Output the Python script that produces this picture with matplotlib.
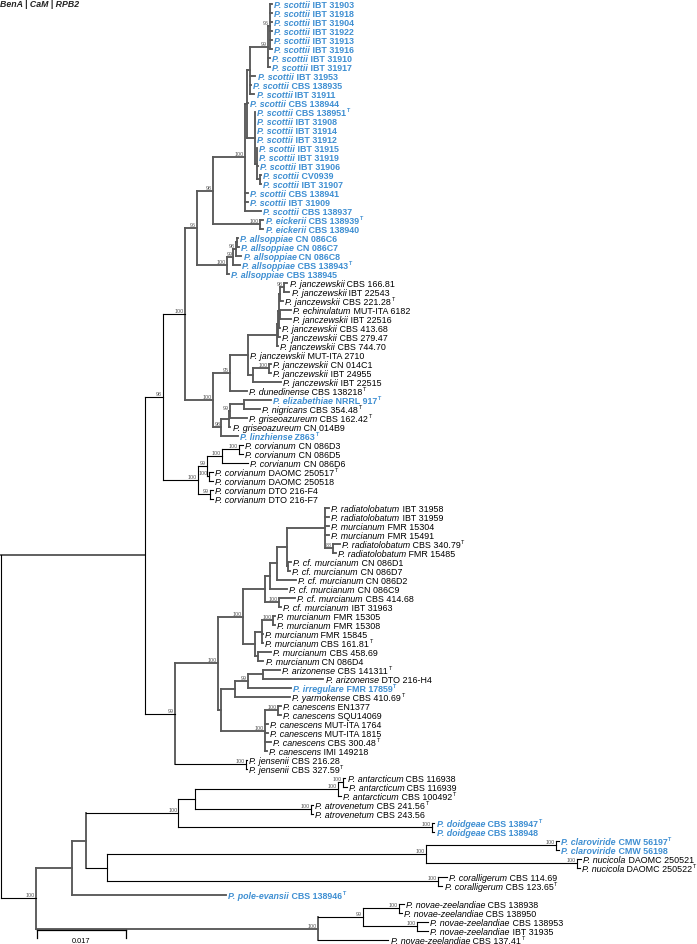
import matplotlib
matplotlib.use("Agg")
import matplotlib.pyplot as plt
from matplotlib.collections import LineCollection

plt.rcParams['font.family'] = ['Liberation Sans', 'DejaVu Sans']

# leaf labels, top to bottom
species = (["P. scottii"] * 24 + ["P. eickerii"] * 2 + ["P. allsoppiae"] * 5
           + ["P. janczewskii"] * 3 + ["P. echinulatum"] + ["P. janczewskii"] * 8
           + ["P. dunedinense", "P. elizabethiae", "P. nigricans",
              "P. griseoazureum", "P. griseoazureum", "P. linzhiense"]
           + ["P. corvianum"] * 7
           + ["P. radiatolobatum"] * 2 + ["P. murcianum"] * 2 + ["P. radiatolobatum"] * 2
           + ["P. cf. murcianum"] * 6 + ["P. murcianum"] * 6
           + ["P. arizonense"] * 2 + ["P. irregulare", "P. yarmokense"]
           + ["P. canescens"] * 6 + ["P. jensenii"] * 2
           + ["P. antarcticum"] * 3 + ["P. atrovenetum"] * 2 + ["P. doidgeae"] * 2
           + ["P. claroviride"] * 2 + ["P. nucicola"] * 2 + ["P. coralligerum"] * 2
           + ["P. pole-evansii"] + ["P. novae-zeelandiae"] * 5)

strains = ["IBT 31903", "IBT 31918", "IBT 31904", "IBT 31922", "IBT 31913", "IBT 31916",
           "IBT 31910", "IBT 31917", "IBT 31953", "CBS 138935", "IBT 31911", "CBS 138944",
           "CBS 138951", "IBT 31908", "IBT 31914", "IBT 31912", "IBT 31915", "IBT 31919",
           "IBT 31906", "CV0939", "IBT 31907", "CBS 138941", "IBT 31909", "CBS 138937",
           "CBS 138939", "CBS 138940",
           "CN 086C6", "CN 086C7", "CN 086C8", "CBS 138943", "CBS 138945",
           "CBS 166.81", "IBT 22543", "CBS 221.28", "MUT-ITA 6182", "IBT 22516",
           "CBS 413.68", "CBS 279.47", "CBS 744.70", "MUT-ITA 2710", "CN 014C1",
           "IBT 24955", "IBT 22515", "CBS 138218", "NRRL 917", "CBS 354.48",
           "CBS 162.42", "CN 014B9", "Z863",
           "CN 086D3", "CN 086D5", "CN 086D6", "DAOMC 250517", "DAOMC 250518",
           "DTO 216-F4", "DTO 216-F7",
           "IBT 31958", "IBT 31959", "FMR 15304", "FMR 15491", "CBS 340.79", "FMR 15485",
           "CN 086D1", "CN 086D7", "CN 086D2", "CN 086C9", "CBS 414.68", "IBT 31963",
           "FMR 15305", "FMR 15308", "FMR 15845", "CBS 161.81", "CBS 458.69", "CN 086D4",
           "CBS 141311", "DTO 216-H4", "FMR 17859", "CBS 410.69",
           "EN1377", "SQU14069", "MUT-ITA 1764", "MUT-ITA 1815", "CBS 300.48", "IMI 149218",
           "CBS 216.28", "CBS 327.59",
           "CBS 116938", "CBS 116939", "CBS 100492", "CBS 241.56", "CBS 243.56",
           "CBS 138947", "CBS 138948", "CMW 56197", "CMW 56198",
           "DAOMC 250521", "DAOMC 250522", "CBS 114.69", "CBS 123.65", "CBS 138946",
           "CBS 138938", "CBS 138950", "CBS 138953", "IBT 31935", "CBS 137.41"]

type_strains = [12, 24, 29, 33, 43, 44, 45, 46, 48, 52, 60, 71, 74, 76, 77, 82, 85,
                88, 89, 91, 93, 96, 98, 99, 104]
new_taxa = list(range(0, 31)) + [44, 48, 76, 91, 92, 93, 94, 99]

# topology with branch lengths (subst./site) and bootstrap support, leaves = row index
SCOTTII = ("(((((0:0.0004,1:0.0004,2:0.0004,3:0.0004,4:0.0004,5:0.0004)96:0.0004,"
           "6:0.0004,7:0.0004)99:0.0034,8:0.001,9:0.0002,10:0.0008):0.0006,11:0.0002,"
           "(12:0,13:0,14:0,15:0,(16:0,17:0,18:0.0002,(19:0.0002,20:0.0002):0.0006):0.0004)"
           ":0.0015):0.0004,21:0.0006,22:0.0006,23:0.0031)100:0.0061")
EICKERII = "(24:0.0006,25:0.0006)100:0.009"
ALLSOPPIAE = ("((((26:0.0002,27:0.0004):0.0002,28:0.0011)98:0.0004,29:0.0013)99:0.0013,"
              "30:0.0004)100:0.0057")
JANCZEWSKII = ("(((((((31:0.0006,32:0.001)98:0.0008,33:0.0006):0.0002,(34:0.0021,35:0.0021)"
               ":0.0002,36:0.0002):0.0002,37:0.0004):0.0002,38:0.0002):0.0055,39:0,"
               "((40:0.0004,41:0.0004)100:0.0029,42:0.0052):0.001):0.0034,43:0.0032)95:0.0034")
ELIZABETHIAE = "((((44:0.005,45:0.0029):0.0027,46:0.0031)99:0.0002,47:0.0002):0.0015,48:0.0031)98:0.0017"
CORVIANUM = ("((((49:0.0008,50:0.0008)100:0.0032,51:0.005)100:0.0029,(52:0.0008,53:0.0008)"
             "100:0.0004)99:0.0017,(54:0.0006,55:0.0006)99:0.0023)100:0.0067")
MURCIANUM = ("((((((56:0.0008,57:0.0008,58:0.0008,59:0.0008,(60:0.0013,61:0.0006)88:0.0015)"
             ":0.0073,(62:0.0006,63:0.0004):0.0002):0.0019,64:0.0036):0.0013,65:0.0032):0.001,"
             "(66:0.0031,67:0.0004)100:0.0027):0.0042,(((68:0.0004,69:0.0004)100:0.0021,"
             "70:0.0002,71:0.0002):0.0013,(72:0.0025,73:0.001):0.0006):0.0023)100:0.0048")
ARIZONENSE = "(((74:0.0032,75:0.0115):0.0029,76:0.0082)99:0.0025,77:0.0105):0.0027"
CANESCENS = "((78:0.0006,79:0.0006)100:0.0025,80:0.0006,81:0.0006,82:0.0011,83:0.0004)100:0.0084"
JENSENII = "(84:0.0002,85:0.0002)100:0.0136"
OUTGROUPS = ("(((((((86:0.0004,87:0.0006)100:0.0011,88:0.0006)100:0.0273,(89:0.0004,90:0.0004)"
             "100:0.0222):0.0031,(91:0.0004,92:0.0004)100:0.0485)100:0.0176,(((93:0.0006,"
             "94:0.0006)100:0.0248,(95:0.0008,96:0.0006)100:0.0288)100:0.0609,(97:0.0017,"
             "98:0.0008)100:0.0632):0.004):0.0027,99:0.0294):0.0069,(((100:0.0008,101:0.0004)"
             "100:0.0069,(102:0.0021,103:0.0021)100:0.0103)99:0.0086,104:0.0134)100:0.0539)100:0.0067")

TREE = ("((((((" + SCOTTII + "," + EICKERII + ")98:0.0031," + ALLSOPPIAE + ")96:0.0023,("
        + JANCZEWSKII + "," + ELIZABETHIAE + ")100:0.0053)100:0.0042," + CORVIANUM
        + ")98:0.0034,((" + MURCIANUM + ",(" + ARIZONENSE + "," + CANESCENS
        + "):0.0006)100:0.0082," + JENSENII + ")99:0.0057):0.0275," + OUTGROUPS + ");")

scale_len = 0.017

# line style: clades (first row, last row) drawn thin black, everything else thick grey
thin_clades = [(49, 55), (84, 85), (86, 92), (93, 98), (100, 103), (104, 104)]
thin_verticals = [(0, 104), (0, 85), (0, 55)]
thin_branches = [(0, 55), (0, 48), (56, 85), (86, 104)]


def parse_newick(s):
    pos = 0

    def node():
        nonlocal pos
        n = {"children": [], "label": "", "length": 0.0}
        if s[pos] == "(":
            pos += 1
            while True:
                n["children"].append(node())
                if s[pos] == ",":
                    pos += 1
                    continue
                pos += 1
                break
        start = pos
        while s[pos] not in ":,();":
            pos += 1
        n["label"] = s[start:pos]
        if s[pos] == ":":
            pos += 1
            start = pos
            while s[pos] not in ",();":
                pos += 1
            n["length"] = float(s[start:pos])
        return n

    return node()


def layout(n, depth=0.0):
    n["x"] = depth + n["length"]
    if n["children"]:
        for c in n["children"]:
            layout(c, n["x"])
        n["y"] = (n["children"][0]["y"] + n["children"][-1]["y"]) / 2.0
        n["span"] = (n["children"][0]["span"][0], n["children"][-1]["span"][1])
    else:
        n["y"] = int(n["label"])
        n["span"] = (n["y"], n["y"])


def walk(n):
    yield n
    for c in n["children"]:
        for m in walk(c):
            yield m


def in_thin_clade(n):
    a, b = n["span"]
    return any(lo <= a and b <= hi for lo, hi in thin_clades)


root = parse_newick(TREE)
layout(root)
nodes = list(walk(root))
leaves = [n for n in nodes if not n["children"]]
assert [int(n["label"]) for n in leaves] == list(range(len(species))) == list(range(len(strains)))

W, H = 697, 945
px = scale_len / 89.0          # data units per pixel
row0, row_h = 4.8, 9.0         # first leaf row and spacing in pixels

fig = plt.figure(figsize=(W / 100, H / 100), dpi=100)
ax = fig.add_axes([0, 0, 1, 1])
ax.set_xlim(-1 * px, (W - 1) * px)
ax.set_ylim((H - row0) / row_h, -row0 / row_h)
ax.axis("off")

BLUE = "#3f8fd2"
GREY = "#595959"
FS = 6.4

thick, thin = [], []
for n in nodes:
    if n["children"]:
        seg = [(n["x"], n["children"][0]["y"]), (n["x"], n["children"][-1]["y"])]
        if in_thin_clade(n) or n["span"] in thin_verticals:
            thin.append(seg)
        else:
            thick.append(seg)
        for c in n["children"]:
            seg = [(n["x"], c["y"]), (c["x"], c["y"])]
            if in_thin_clade(c) or c["span"] in thin_branches:
                thin.append(seg)
            else:
                thick.append(seg)
ax.add_collection(LineCollection(thick, colors=GREY, linewidths=1.35, capstyle="projecting"))
ax.add_collection(LineCollection(thin, colors="black", linewidths=0.8, capstyle="projecting"))

# bootstrap values
for n in nodes:
    if n["children"] and n["label"] and n is not root:
        ax.annotate(n["label"], xy=(n["x"], n["y"]), xytext=(-0.8, 0.7),
                    textcoords="offset points", ha="right", va="bottom",
                    fontsize=3.9, color="#555555")

# leaf labels
for n in leaves:
    i = int(n["label"])
    blue = i in new_taxa
    col = BLUE if blue else "black"
    wt = "bold" if blue else "normal"
    t1 = ax.annotate(species[i], xy=(n["x"], n["y"]), xytext=(1.6, -2.2),
                     textcoords="offset points", ha="left", va="baseline",
                     fontsize=FS, style="italic", weight=wt, color=col)
    t2 = ax.annotate(" " + strains[i], xy=(1, n["y"]), xycoords=(t1, "data"),
                     xytext=(0, -2.2), textcoords="offset points", ha="left",
                     va="baseline", fontsize=FS, weight=wt, color=col)
    if i in type_strains:
        ax.annotate("T", xy=(1, n["y"]), xycoords=(t2, "data"), xytext=(0.4, 0.3),
                    textcoords="offset points", ha="left", va="baseline",
                    fontsize=FS * 0.6, weight=wt, color=col)

# scale bar
sb_x0 = 35.7 * px
sb_y = (930.7 - row0) / row_h
tick = 8.5 / row_h
ax.plot([sb_x0, sb_x0 + scale_len], [sb_y, sb_y], color="black", lw=0.9)
ax.plot([sb_x0, sb_x0], [sb_y, sb_y + tick], color="black", lw=0.9)
ax.plot([sb_x0 + scale_len, sb_x0 + scale_len], [sb_y, sb_y + tick], color="black", lw=0.9)
ax.text(sb_x0 + scale_len / 2, sb_y + 1.25, "0.017", ha="center", va="center", fontsize=5.3)

fig.text(0.5 / W, 1 - 7.3 / H, "BenA | CaM | RPB2", ha="left", va="baseline",
         fontsize=6.3, weight="bold", style="italic", color="#222222")

fig.savefig("out.png", dpi=100)
